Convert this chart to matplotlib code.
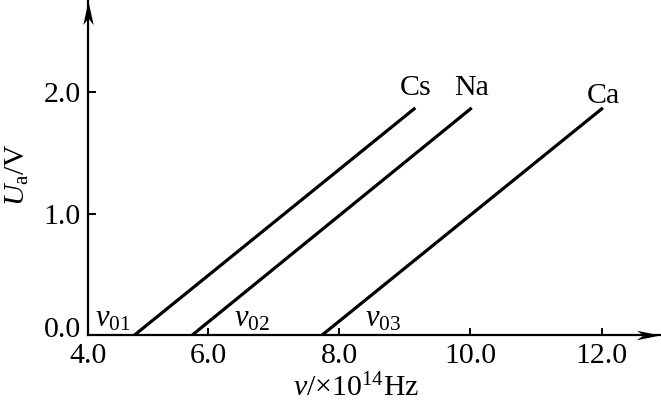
import matplotlib
matplotlib.use("Agg")
import matplotlib.pyplot as plt
from matplotlib.path import Path
from matplotlib.transforms import ScaledTranslation

plt.rcParams['font.family'] = ['Liberation Serif', 'DejaVu Serif']
plt.rcParams['mathtext.fontset'] = 'custom'
plt.rcParams['mathtext.rm'] = 'Liberation Serif'
plt.rcParams['mathtext.it'] = 'Liberation Serif:italic'

# ---- data ----
metals = ["Cs", "Na", "Ca"]
cutoff_labels = [r"$v_{01}$", r"$v_{02}$", r"$v_{03}$"]
cutoff_freq = [4.88, 5.76, 7.74]      # x10^14 Hz, where Ua = 0
end_freq = [9.16, 10.02, 12.02]       # x10^14 Hz, upper end of each line
end_Ua = [1.87, 1.87, 1.87]           # V, upper end of each line
xtick_values = [4.0, 6.0, 8.0, 10.0, 12.0]
ytick_values = [0.0, 1.0, 2.0]

# ---- figure ----
W, H = 661, 407
fig = plt.figure(figsize=(W / 100, H / 100), dpi=100)
ax = fig.add_axes([88 / W, 72 / H, 572 / W, 334 / H])

x0, x1 = 4.17, 12.89
y0, y1 = 0.0, 2.75
ax.set_xlim(x0, x1)
ax.set_ylim(y0, y1)

FS = 21.5

for i, m in enumerate(metals):
    ax.plot([cutoff_freq[i], end_freq[i]], [0, end_Ua[i]], color='black',
            lw=2.3, solid_capstyle='butt', zorder=3)
    va_off = 5 if m != "Ca" else -1
    ax.annotate(m, (end_freq[i], end_Ua[i]), xytext=(0, va_off),
                textcoords='offset points', ha='center', va='bottom',
                fontsize=FS)

# cutoff labels
offsets = [(-3, 1, 'right'), (30, 1, 'left'), (31, 1, 'left')]
for i, lab in enumerate(cutoff_labels):
    dx, dy, ha = offsets[i]
    ax.annotate(lab, (cutoff_freq[i], 0), xytext=(dx, dy),
                textcoords='offset points', ha=ha, va='bottom', fontsize=22)

# spines
for s in ['top', 'right']:
    ax.spines[s].set_visible(False)
for s in ['left', 'bottom']:
    ax.spines[s].set_linewidth(1.6)

# arrow heads
right_head = Path([(0, 0), (-1, 0.2), (-0.72, 0), (-1, -0.2), (0, 0)],
                  [Path.MOVETO, Path.LINETO, Path.LINETO, Path.LINETO, Path.CLOSEPOLY])
up_head = Path([(0, 0), (-0.22, -1), (0, -0.72), (0.22, -1), (0, 0)],
               [Path.MOVETO, Path.LINETO, Path.LINETO, Path.LINETO, Path.CLOSEPOLY])
ax.plot([x1], [y0], marker=right_head, markersize=34, color='black', mew=0,
        clip_on=False, zorder=5)
ax.plot([x0], [y1], marker=up_head, markersize=34, color='black', mew=0,
        clip_on=False, zorder=5)

# ticks
xt = [x0] + xtick_values[1:]
ax.set_xticks(xt)
ax.set_xticklabels([f"{v:.1f}" for v in xtick_values])
ax.set_yticks(ytick_values)
ax.set_yticklabels([f"{v:.1f}" for v in ytick_values])
ax.tick_params(axis='x', direction='in', length=5, width=1.4, pad=6, labelsize=FS)
ax.tick_params(axis='y', direction='in', length=6, width=1.4, pad=5, labelsize=FS)
lbl0 = ax.get_yticklabels()[0]
lbl0.set_transform(lbl0.get_transform() + ScaledTranslation(0, 6 / 72, fig.dpi_scale_trans))

ax.set_xlabel(r"$v$/×10$^{14}$Hz", fontsize=FS)
ax.xaxis.set_label_coords(0.469, -0.115)
ax.set_ylabel(r"$U_{\mathrm{a}}$/V", fontsize=FS)
ax.yaxis.set_label_coords(-0.10, 0.48)

fig.savefig("out.png", dpi=100)
